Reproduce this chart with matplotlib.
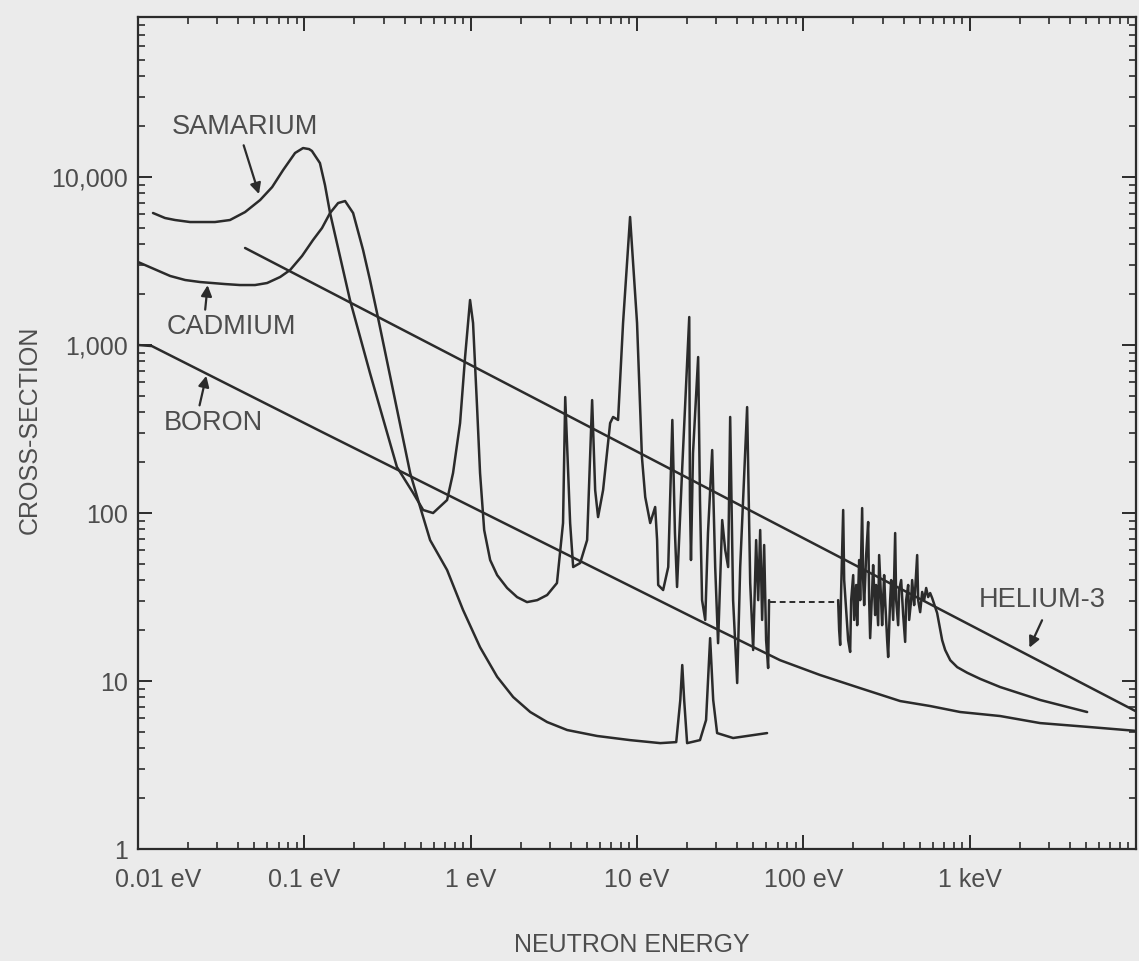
import matplotlib.pyplot as plt
import matplotlib.transforms as mtransforms

plt.rcParams['font.family'] = ['Liberation Sans', 'DejaVu Sans']

# energia (eV) y seccion eficaz (barns)
boro_E = [0.01, 0.0121, 0.124, 1.5, 23.9, 72.5, 126, 219, 382, 578, 877, 1524, 2650, 5300, 10000]
boro_s = [1000, 986, 308, 89.6, 22.8, 13.3, 10.86, 9.08, 7.6, 7.1, 6.54, 6.19, 5.62, 5.32, 5.05]

he3_E = [0.044, 1.0, 10000]
he3_s = [3780, 760, 6.6]

cd_E = [0.01, 0.0156, 0.0192, 0.0236, 0.0333, 0.041, 0.0505, 0.0597, 0.0715, 0.082,
        0.0968, 0.1127, 0.1276, 0.1427, 0.1595, 0.1757, 0.1963, 0.2254, 0.248, 0.2735,
        0.341, 0.4325, 0.4966, 0.57, 0.721, 0.899, 1.138, 1.442, 1.80, 2.28,
        2.88, 3.8, 5.75, 9.08, 13.8, 17.2, 18.2, 18.7, 19.2, 20.0,
        23.9, 26.0, 27.5, 28.7, 30.3, 37.8, 60.5]
cd_s = [3119, 2576, 2437, 2371, 2306, 2275, 2275, 2339, 2540, 2793,
        3388, 4217, 4966, 6106, 7000, 7194, 6106, 3675, 2437, 1549,
        540, 173, 108.6, 69.0, 45.8, 26.5, 15.9, 10.6, 8.03, 6.54,
        5.70, 5.11, 4.71, 4.45, 4.27, 4.33, 7.71, 12.45, 7.71, 4.27,
        4.45, 5.86, 18.0, 7.71, 4.9, 4.58, 4.9]

# samario, zona resuelta
sm_E1 = [0.0123, 0.01453, 0.0167, 0.02055, 0.0236, 0.029, 0.0357, 0.044, 0.0542, 0.064,
         0.0745, 0.0879, 0.0982, 0.1067, 0.111, 0.124, 0.133, 0.1427, 0.188, 0.248,
         0.36, 0.451, 0.518, 0.594, 0.721, 0.783, 0.863, 0.925, 0.991, 1.033,
         1.092, 1.138, 1.205, 1.309, 1.442, 1.655, 1.90, 2.18, 2.51, 2.88,
         3.30, 3.59, 3.70, 3.96, 4.13, 4.55, 5.01, 5.22, 5.37, 5.60,
         5.83, 6.25, 6.89, 7.18, 7.69, 8.24, 9.08, 10.0, 10.7, 11.2,
         12.0, 12.85, 13.2, 13.4, 14.35, 15.4, 16.3, 16.9, 17.4, 18.7,
         20.6, 20.8, 21.1, 21.7, 23.3, 23.9, 24.6, 25.7, 26.7, 28.3,
         29.5, 30.7, 32.5, 33.9, 35.3, 36.3, 37.8, 40.0, 41.7, 45.9,
         47.9, 49.9, 52.0, 53.5, 55.0, 56.5, 58.1, 59.7, 61.4, 62.2]
sm_s1 = [6106, 5700, 5546, 5395, 5395, 5395, 5546, 6185, 7295, 8710,
         11000, 13900, 14870, 14660, 14290, 12110, 8955, 6106, 1853, 681,
         188, 131.5, 104.2, 100, 119.5, 173, 343, 848, 1853, 1352,
         427, 173, 79.2, 52.5, 42.7, 35.8, 31.6, 29.5, 30.3, 32.5,
         38.3, 87.2, 490, 87.2, 47.7, 50.4, 69.0, 215, 470, 137,
         94.6, 137, 343, 373, 358, 1352, 5780, 1352, 215, 124.5,
         87.2, 108.6, 69.0, 37.3, 34.8, 47.7, 358, 76.0, 36.3, 188,
         1467, 119.5, 52.5, 227, 848, 119.5, 30.3, 23.1, 76.0, 237,
         47.7, 16.8, 90.8, 60.2, 47.7, 373, 30.3, 9.73, 47.7, 427,
         38.3, 15.3, 69.0, 30.3, 79.2, 23.1, 64.5, 17.5, 11.95, 30.3]

# tramo no resuelto (discontinuo)
gap_E = [63.1, 162]
gap_s = [29.5, 29.5]

sm_E2 = [161.8, 164.1, 166.4, 168.7, 173.5, 175.9, 180.8, 185.9, 191.1, 193.8,
         199.3, 202.0, 207.7, 210.6, 216.5, 219.5, 225.6, 228.8, 232.0, 238.5,
         245.2, 248.6, 252.0, 259.1, 262.7, 270.1, 273.8, 281.5, 285.4, 293.4,
         297.5, 305.9, 310.2, 318.9, 323.4, 332.4, 337.1, 346.6, 356.3, 361.3,
         371.4, 376.6, 387.2, 398.1, 409.2, 414.9, 426.6, 432.5, 444.6, 450.8,
         463.4, 469.9, 483.2, 489.9, 503.7, 517.8, 532.3, 547.3, 562.6, 578.4,
         594.6, 637, 683, 712, 764, 841, 966, 1156, 1524, 2655, 5082]
sm_s2 = [30.3, 20.1, 16.4, 34.8, 104.2, 39.9, 26.5, 17.5, 14.9, 30.3,
         42.7, 23.1, 37.3, 21.5, 52.5, 30.3, 107, 39.9, 28.3, 56.2,
         88.4, 30.3, 18.0, 34.8, 49.0, 24.7, 37.3, 21.5, 56.2, 30.3,
         21.5, 42.7, 30.3, 17.5, 13.9, 30.3, 39.9, 23.1, 76.0, 30.3,
         21.5, 34.8, 39.9, 24.7, 17.1, 30.3, 37.3, 23.1, 30.3, 39.9,
         28.3, 34.8, 56.2, 30.3, 25.7, 33.9, 30.3, 35.8, 31.6, 33.4,
         31.2, 25.4, 17.5, 15.3, 13.3, 12.1, 11.2, 10.3, 9.21, 7.71, 6.54]

xticks = [0.01, 0.1, 1, 10, 100, 1000]
xlabels = ['0.01 eV', '0.1 eV', '1 eV', '10 eV', '100 eV', '1 keV']
yticks = [1, 10, 100, 1000, 10000]
ylabels = ['1', '10', '100', '1,000', '10,000']

fondo = '#ebebeb'
tinta = '#2b2b2b'
gris = '#4d4d4d'

fig = plt.figure(figsize=(11.39, 9.61), dpi=100, facecolor=fondo)
ax = fig.add_axes([0.1212, 0.1165, 0.8762, 0.8658], facecolor=fondo)
ax.set_xscale('log')
ax.set_yscale('log')

lw = 1.8
estilo = dict(color=tinta, lw=lw, solid_joinstyle='round', solid_capstyle='round')
ax.plot(boro_E, boro_s, **estilo)
ax.plot(he3_E, he3_s, **estilo)
ax.plot(cd_E, cd_s, **estilo)
ax.plot(sm_E1, sm_s1, **estilo)
ax.plot(sm_E2, sm_s2, **estilo)
ax.plot(gap_E, gap_s, color=tinta, lw=1.4, ls=(0, (3, 2)))

ax.set_xlim(0.01, 10000)
ax.set_ylim(1, 8.96e4)

ax.set_xticks(xticks)
ax.set_xticklabels(xlabels)
ax.set_yticks(yticks)
ax.set_yticklabels(ylabels)
ax.tick_params(which='both', direction='in', top=True, right=True, color=tinta,
               labelcolor=gris, labelsize=18)
ax.tick_params(which='major', length=10, width=1.4)
ax.tick_params(which='minor', length=5, width=1.2)
ax.tick_params(axis='x', pad=14)
ax.tick_params(axis='y', pad=7)
for s in ax.spines.values():
    s.set_linewidth(1.6)
    s.set_color(tinta)

# la primera etiqueta esta algo desplazada a la derecha en el original
lab = ax.get_xticklabels()[0]
lab.set_transform(lab.get_transform() + mtransforms.ScaledTranslation(0.2, 0, fig.dpi_scale_trans))

# rotulos de cada curva con su flecha
rotulos = [('SAMARIUM', (0.107, 0.868), (0.105, 0.849), (0.122, 0.784)),
           ('CADMIUM', (0.094, 0.627), (0.067, 0.645), (0.070, 0.681)),
           ('BORON', (0.075, 0.512), (0.061, 0.530), (0.069, 0.572)),
           ('HELIUM-3', (0.906, 0.299), (0.907, 0.278), (0.892, 0.239))]
for txt, pos, cola, punta in rotulos:
    ax.text(pos[0], pos[1], txt, transform=ax.transAxes, ha='center', va='center',
            fontsize=19.5, color=gris)
    ax.annotate('', xy=punta, xycoords='axes fraction', xytext=cola, textcoords='axes fraction',
                arrowprops=dict(arrowstyle='-|>', color=tinta, lw=1.6, mutation_scale=16))

fig.text(0.026, 0.553, 'CROSS-SECTION', rotation=90, ha='center', va='center',
         fontsize=18, color=gris)
fig.text(0.555, 0.0167, 'NEUTRON ENERGY', ha='center', va='center', fontsize=18, color=gris)

fig.savefig('out.png', dpi=100, facecolor=fondo)
